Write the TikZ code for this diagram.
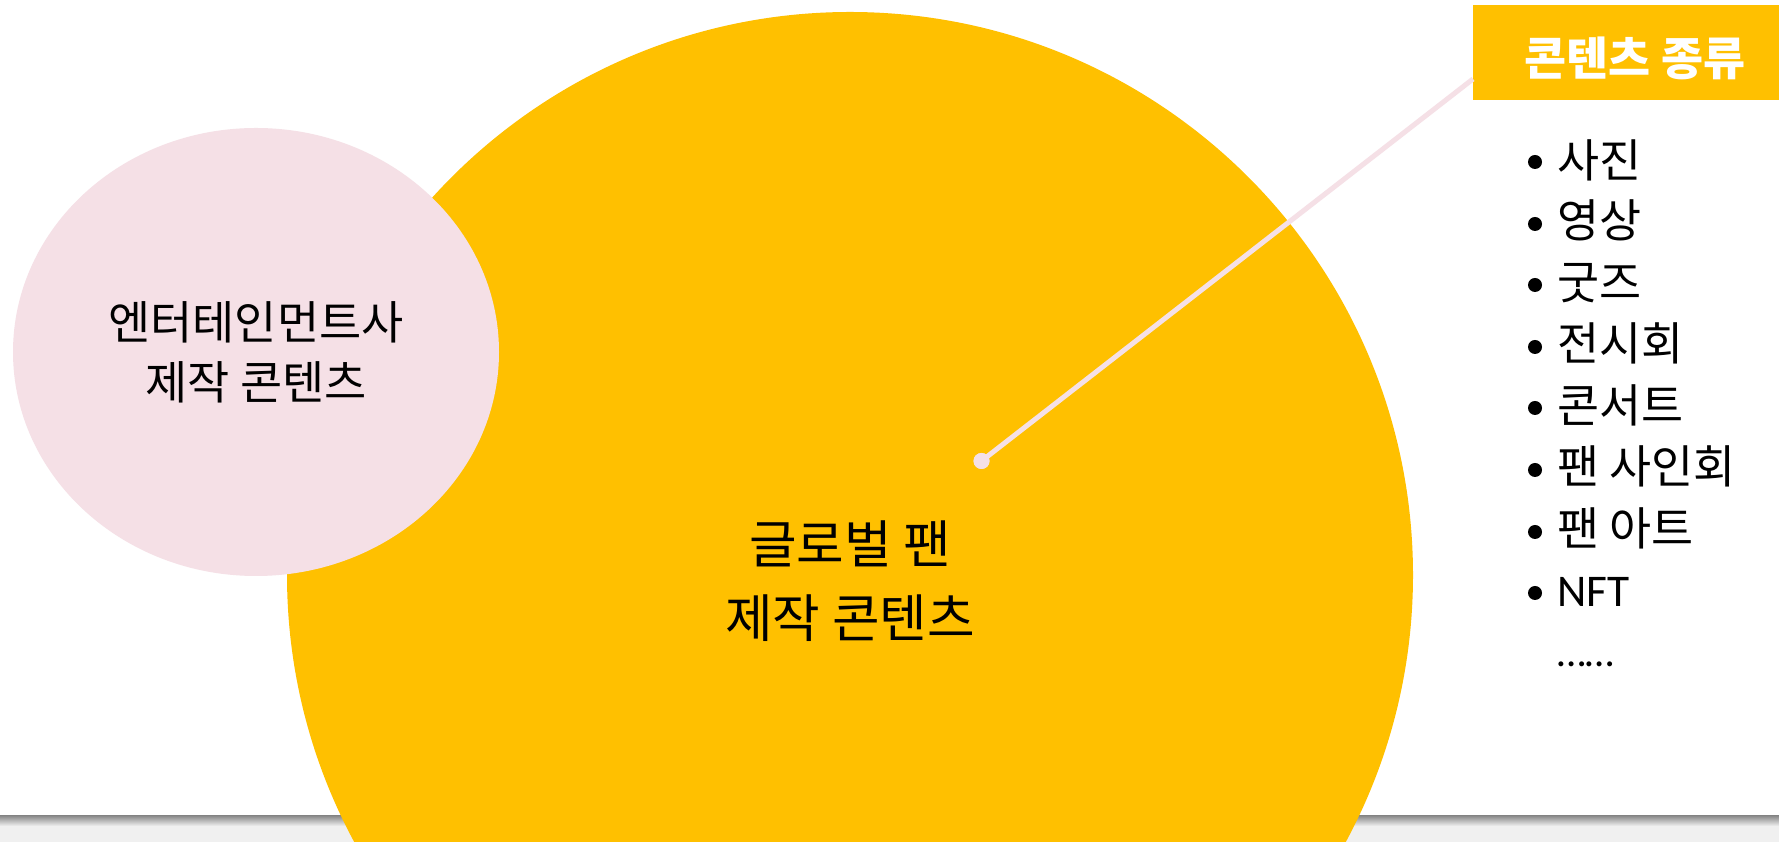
\documentclass[tikz,border=0pt]{standalone}
\usepackage{fontspec}
\setmainfont{Noto Sans CJK KR}
\newfontfamily\latinf{Carlito}
\usetikzlibrary{shapes.geometric}
\definecolor{gold}{HTML}{FFC000}
\definecolor{blush}{HTML}{F5E0E6}
\definecolor{band}{HTML}{F0F0F0}
\tikzset{
  listitem/.style={anchor=base west, inner sep=0pt, font=\fontsize{34.3}{40}\selectfont},
  bulletdot/.style={circle, fill=black, minimum size=10.5pt, inner sep=0pt},
}
\begin{document}
\begin{tikzpicture}[x=0.75pt,y=0.75pt]
\useasboundingbox (0,0) rectangle (1779,842);
\fill[white] (0,0) rectangle (1779,842);
\fill[band] (0,0) rectangle (1779,26);
\shade[top color=black!45, bottom color=band] (0,16) rectangle (1779,26);
% big circle
\node[circle, fill=gold, minimum size=844.5pt, inner sep=0pt, outer sep=0pt] (fan) at (850,267) {};
\node[align=center, inner sep=0pt, font=\fontsize{38.8}{56}\selectfont] (fantext) at (850,261) {글로벌 팬\\제작 콘텐츠};
% ellipse
\node[ellipse, fill=blush, minimum width=364.5pt, minimum height=336pt, inner sep=0pt, align=center,
      font=\fontsize{34.4}{45}\selectfont] (ent) at (256,490) {엔터테인먼트사\\제작 콘텐츠};
% header box
\node[fill=gold, minimum width=229.5pt, minimum height=71.25pt, inner sep=0pt, anchor=north west] (box) at (1473,837) {};
\node[text=white, inner sep=0pt, font=\bfseries\fontsize{34.3}{40}\selectfont] (boxtitle) at (1635,784) {콘텐츠 종류};
% connector
\coordinate (lineend) at (1473,763);
\node[circle, fill=blush, minimum size=12pt, inner sep=0pt] (dot) at (981.5,381) {};
\draw[blush, line width=3.75pt] (dot.center) -- (lineend);
\node[circle, fill=blush, minimum size=12pt, inner sep=0pt] at (dot.center) {};
% list
\node[bulletdot] (b1) at (1535,680) {};
\node[listitem] (i1) at (1557,664) {사진};
\node[bulletdot] (b2) at (1535,618) {};
\node[listitem] (i2) at (1557,604) {영상};
\node[bulletdot] (b3) at (1535,557) {};
\node[listitem] (i3) at (1557,542) {굿즈};
\node[bulletdot] (b4) at (1535,495) {};
\node[listitem] (i4) at (1557,481) {전시회};
\node[bulletdot] (b5) at (1535,434) {};
\node[listitem] (i5) at (1557,419) {콘서트};
\node[bulletdot] (b6) at (1535,372) {};
\node[listitem] (i6) at (1557,358) {팬 사인회};
\node[bulletdot] (b7) at (1535,310) {};
\node[listitem] (i7) at (1557,296) {팬 아트};
\node[bulletdot] (b8) at (1535,249) {};
\node[listitem, font=\latinf\fontsize{34}{40}\selectfont] (i8) at (1557,235.5) {NFT};
\node[listitem, font=\latinf\fontsize{31}{37}\selectfont] (i9) at (1557,175) {……};
\end{tikzpicture}
\end{document}
